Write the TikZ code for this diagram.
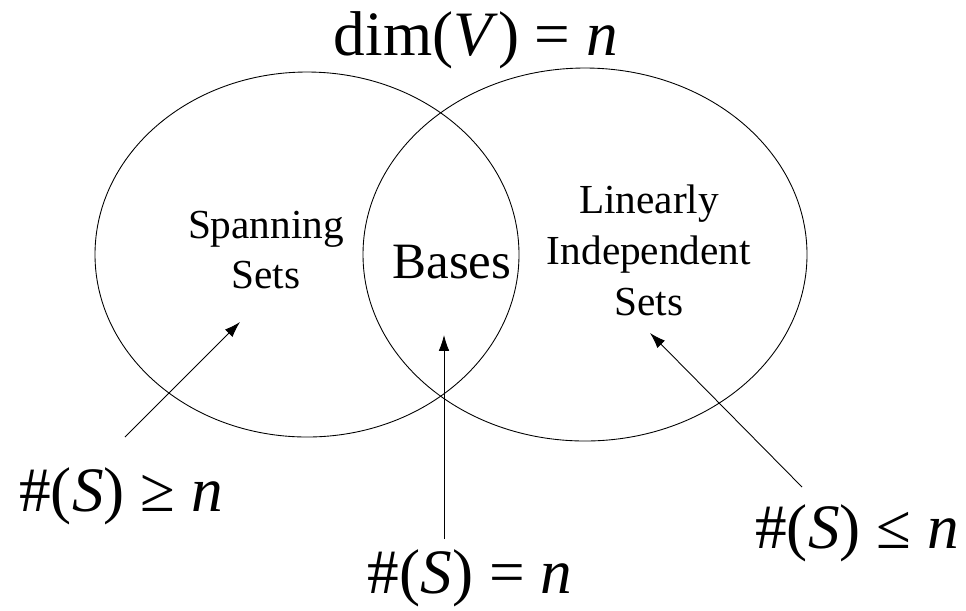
\documentclass[tikz,border=0pt]{standalone}
\usepackage{fontspec}
\setmainfont{Liberation Serif}
\usetikzlibrary{arrows.meta}
\tikzset{
  lbl/.style={font=\fontsize{36}{40}\selectfont, inner sep=0pt},
  setname/.style={font=\fontsize{23.5}{29}\selectfont, align=center, inner sep=0pt},
  ptr/.style={-{Latex[length=9pt,width=6pt]}, line width=0.5pt},
}
\newcommand{\card}[1]{\#(\textit{S})~#1~\textit{n}}

\begin{document}
\begin{tikzpicture}[x=0.02cm,y=-0.02cm]
  \useasboundingbox (0,0) rectangle (966,610);

  % The two sets
  \draw[line width=0.5pt] (307,254.5) ellipse [x radius=212, y radius=182.5];
  \draw[line width=0.5pt] (585,254.5) ellipse [x radius=222, y radius=186.5];

  % Title
  \node[lbl] (dim) at (476,40) {dim(\textit{V}) = \textit{n}};

  % Names
  \node[setname] (span) at (266,250) {Spanning\\Sets};
  \node[setname, font=\fontsize{29}{30}\selectfont] (bases) at (452,262) {Bases};
  \node[setname] (indep) at (649,250) {Linearly\\Independent\\Sets};

  % Counts
  \node[lbl] (ge) at (121,496) {\card{≥}};
  \node[lbl] (eq) at (470,578) {\card{=}};
  \node[lbl] (le) at (857,533) {\card{≤}};

  % Pointers
  \coordinate (ge-from) at (125,437);
  \coordinate (ge-to) at (240,322);
  \coordinate (eq-from) at (444,539);
  \coordinate (eq-to) at (444,335);
  \coordinate (le-from) at (802,487);
  \coordinate (le-to) at (650,333);
  \draw[ptr] (ge-from) -- (ge-to);
  \draw[ptr] (eq-from) -- (eq-to);
  \draw[ptr] (le-from) -- (le-to);
\end{tikzpicture}
\end{document}
